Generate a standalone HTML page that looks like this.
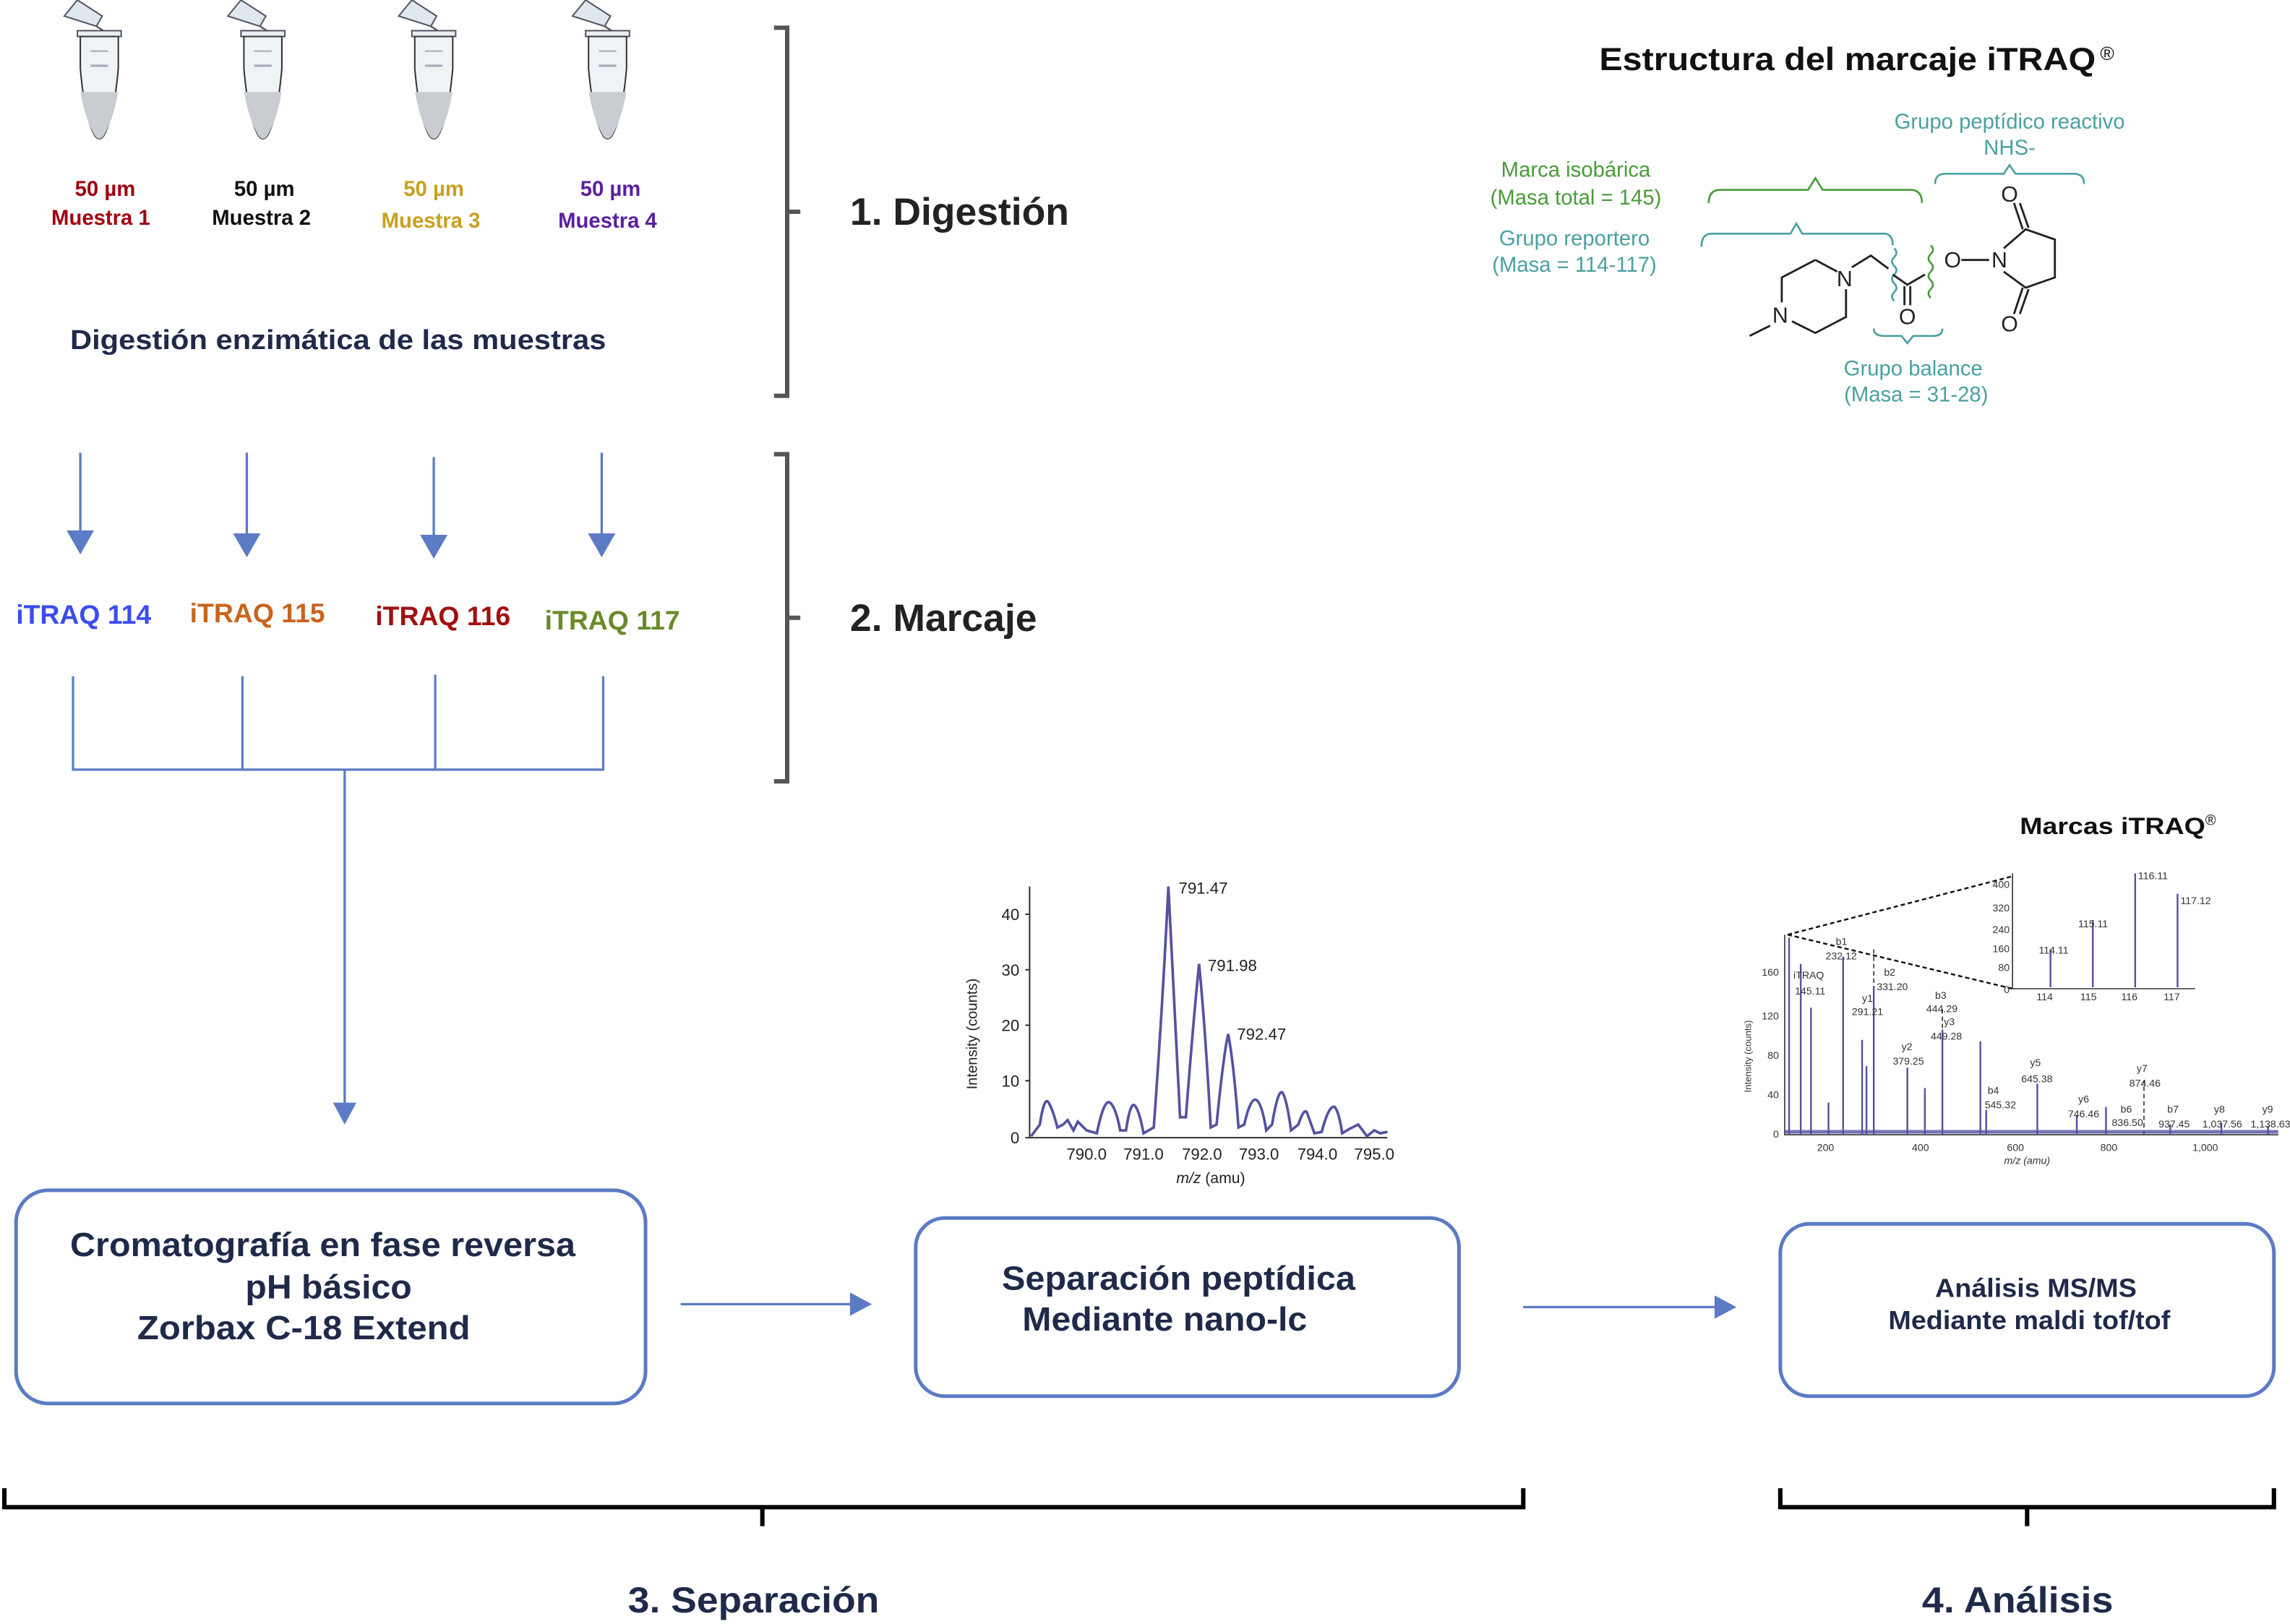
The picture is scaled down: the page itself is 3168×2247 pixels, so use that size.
<!DOCTYPE html>
<html><head><meta charset="utf-8"><style>
html,body{margin:0;padding:0;background:#fff;}
svg{display:block;}
text{font-family:"Liberation Sans",Arial,sans-serif;}
</style></head><body>
<svg width="3168" height="2247" viewBox="0 0 1568 1112" preserveAspectRatio="none" xmlns="http://www.w3.org/2000/svg">
<defs>
<g id="tube">
  <path d="M-24,-26 L-15,-37 L2,-26 L-2,-19 Z" fill="#dfe8ee" stroke="#556" stroke-width="1"/>
  <path d="M-2,-19 L6,-14 L14,-14" fill="none" stroke="#556" stroke-width="1.2"/>
  <rect x="-15" y="-16" width="30" height="4" fill="#e8eef2" stroke="#556" stroke-width="1"/>
  <path d="M-13,-12 L13,-12 L13,10 Q10,44 3,56 Q0,60 -3,56 Q-10,44 -13,10 Z" fill="#eef3f6" stroke="#333" stroke-width="1"/>
  <path d="M-12.8,26 L12.8,26 Q10,44 3,56 Q0,60 -3,56 Q-10,44 -12.8,26 Z" fill="#c9cdd1"/>
  <line x1="-6" y1="-2" x2="6" y2="-2" stroke="#aab" stroke-width="1"/>
  <line x1="-6" y1="8" x2="6" y2="8" stroke="#aab" stroke-width="1.5"/>
</g>
</defs>
<use href="#tube" x="68" y="37"/>
<use href="#tube" x="180" y="37"/>
<use href="#tube" x="297" y="37"/>
<use href="#tube" x="416" y="37"/>

<g font-weight="bold" font-size="14.5" text-anchor="middle">
<text x="72" y="134" fill="#a00010">50 µm</text><text x="69" y="154" fill="#a00010">Muestra 1</text>
<text x="181" y="134" fill="#111">50 µm</text><text x="179" y="154" fill="#111">Muestra 2</text>
<text x="297" y="134" fill="#c9a020">50 µm</text><text x="295" y="156" fill="#c9a020">Muestra 3</text>
<text x="418" y="134" fill="#5a1fa0">50 µm</text><text x="416" y="156" fill="#5a1fa0">Muestra 4</text>
</g>
<text x="48" y="239" font-weight="bold" font-size="19" fill="#1f2a4a" textLength="367" lengthAdjust="spacingAndGlyphs">Digestión enzimática de las muestras</text>

<g fill="none" stroke="#555" stroke-width="3">
<path d="M530,19 L539,19 L539,271 L530,271 M539,145 L548,145"/>
<path d="M530,311 L539,311 L539,535 L530,535 M539,423 L548,423"/>
</g>
<text x="582" y="154" font-weight="bold" font-size="26" fill="#222" textLength="150" lengthAdjust="spacingAndGlyphs">1. Digestión</text>
<text x="582" y="432" font-weight="bold" font-size="26" fill="#222" textLength="128" lengthAdjust="spacingAndGlyphs">2. Marcaje</text>

<g stroke="#5b7bc4" stroke-width="1.6" fill="#5b7bc4">
<line x1="55" y1="310" x2="55" y2="365"/><polygon points="47,364 63,364 55,378"/>
<line x1="169" y1="310" x2="169" y2="367"/><polygon points="161,366 177,366 169,380"/>
<line x1="297" y1="313" x2="297" y2="368"/><polygon points="289,367 305,367 297,381"/>
<line x1="412" y1="310" x2="412" y2="367"/><polygon points="404,366 420,366 412,380"/>
</g>
<g font-weight="bold" font-size="18.5">
<text x="11" y="427" fill="#3a4cf0">iTRAQ 114</text>
<text x="130" y="426" fill="#c8641e">iTRAQ 115</text>
<text x="257" y="428" fill="#a01010">iTRAQ 116</text>
<text x="373" y="431" fill="#6a8a2a">iTRAQ 117</text>
</g>
<g stroke="#5b7bc4" stroke-width="1.6" fill="none">
<path d="M50,463 L50,527 L413,527 L413,463 M166,463 L166,527 M298,462 L298,527 M236,527 L236,756"/>
<path d="M466,893 L584,893 M1043,895 L1176,895"/>
</g>
<g fill="#5b7bc4">
<polygon points="228,755 244,755 236,770"/>
<polygon points="582,885 582,901 597,893"/>
<polygon points="1174,887 1174,903 1189,895"/>
</g>

<g fill="none" stroke="#5b7bc4" stroke-width="2.5">
<rect x="11" y="815" width="431" height="146" rx="22"/>
<rect x="627" y="834" width="372" height="122" rx="20"/>
<rect x="1219" y="838" width="338" height="118" rx="20"/>
</g>
<g font-weight="bold" fill="#1f2a4a">
<text x="48" y="860" font-size="23" textLength="346" lengthAdjust="spacingAndGlyphs">Cromatografía en fase reversa</text>
<text x="168" y="889" font-size="23" textLength="114" lengthAdjust="spacingAndGlyphs">pH básico</text>
<text x="94" y="917" font-size="23" textLength="228" lengthAdjust="spacingAndGlyphs">Zorbax C-18 Extend</text>
<text x="686" y="883" font-size="23" textLength="242" lengthAdjust="spacingAndGlyphs">Separación peptídica</text>
<text x="700" y="911" font-size="23" textLength="195" lengthAdjust="spacingAndGlyphs">Mediante nano-lc</text>
<text x="1325" y="888" font-size="18" textLength="138" lengthAdjust="spacingAndGlyphs">Análisis MS/MS</text>
<text x="1293" y="910" font-size="18" textLength="193" lengthAdjust="spacingAndGlyphs">Mediante maldi tof/tof</text>
</g>

<g fill="none" stroke="#000" stroke-width="3">
<path d="M3,1019 L3,1032 L1043,1032 L1043,1019 M522,1032 L522,1045"/>
<path d="M1219,1019 L1219,1032 L1557,1032 L1557,1019 M1388,1032 L1388,1045"/>
</g>
<text x="430" y="1104" font-weight="bold" font-size="25" fill="#1f2a4a" textLength="172" lengthAdjust="spacingAndGlyphs">3. Separación</text>
<text x="1316" y="1104" font-weight="bold" font-size="25" fill="#1f2a4a" textLength="131" lengthAdjust="spacingAndGlyphs">4. Análisis</text>

<!-- iTRAQ structure -->
<text x="1095" y="48" font-weight="bold" font-size="22" fill="#111" textLength="340" lengthAdjust="spacingAndGlyphs">Estructura del marcaje iTRAQ</text>
<text x="1438" y="41" font-size="13" fill="#111">®</text>
<g font-size="14.5" text-anchor="middle">
<text x="1079" y="121" fill="#4a9a3a">Marca isobárica</text>
<text x="1079" y="140" fill="#4a9a3a">(Masa total = 145)</text>
<text x="1078" y="168" fill="#4aa0a0">Grupo reportero</text>
<text x="1078" y="186" fill="#4aa0a0">(Masa = 114-117)</text>
<text x="1376" y="88" fill="#4aa0a0">Grupo peptídico reactivo</text>
<text x="1376" y="106" fill="#4aa0a0">NHS-</text>
<text x="1310" y="257" fill="#4aa0a0">Grupo balance</text>
<text x="1312" y="275" fill="#4aa0a0">(Masa = 31-28)</text>
</g>
<g fill="none" stroke-width="1.3">
<path d="M1170,139 Q1170,130 1178,130 L1238,130 L1243,122 L1248,130 L1308,130 Q1316,130 1316,139" stroke="#4a9a3a"/>
<path d="M1165,169 Q1165,160 1172,160 L1226,160 L1230,153 L1234,160 L1290,160 Q1296,160 1296,168" stroke="#4aa0a0"/>
<path d="M1325,126 Q1325,119 1332,119 L1372,119 L1376,113 L1380,119 L1420,119 Q1427,119 1427,126" stroke="#4aa0a0"/>
<path d="M1283,225 Q1283,230 1290,230 L1302,230 L1306,235 L1310,230 L1324,230 Q1330,230 1330,225" stroke="#4aa0a0"/>
<path d="M1297,170 q3,3 0,6 q-3,3 0,6 q3,3 0,6 q-3,3 0,6 q3,3 0,6 q-3,3 0,6" stroke="#4aa0a0"/>
<path d="M1322,168 q3,3 0,6 q-3,3 0,6 q3,3 0,6 q-3,3 0,6 q3,3 0,6 q-3,3 0,6" stroke="#4a9a3a"/>
</g>
<g fill="none" stroke="#222" stroke-width="1.4">
<path d="M1243,178 L1258,186 M1264,198 L1264,217 L1243,228 L1227,220 M1220,207 L1220,190 L1243,178"/>
<path d="M1212,223 L1198,230"/>
<path d="M1268,183 L1281,175 L1293,184"/>
<path d="M1296,188 L1306,195 L1318,188 M1304,196 L1304,209 M1308,196 L1308,209"/>
<path d="M1343,178 L1362,178"/>
<path d="M1372,170 L1387,157 L1407,164 L1407,190 L1387,197 L1372,186"/>
<path d="M1385,157 L1379,139 M1389,156 L1383,139 M1385,197 L1379,215 M1389,198 L1383,215"/>
</g>
<g font-size="15" fill="#222" text-anchor="middle">
<text x="1263" y="196">N</text><text x="1219" y="221">N</text>
<text x="1306" y="222">O</text><text x="1337" y="183">O</text>
<text x="1369" y="183">N</text><text x="1376" y="138">O</text><text x="1376" y="227">O</text>
</g>

<!-- Spectrum 1 -->
<g stroke="#333" stroke-width="1" fill="none">
<path d="M705,607 L705,779 L950,779"/>
<path d="M702,626 L705,626 M702,664 L705,664 M702,702 L705,702 M702,740 L705,740 M702,779 L705,779"/>
</g>
<path d="M706,778 L712,770 Q715,750 718,755 Q721,760 724,772 L728,770 L731,767 L735,774 L738,768 L744,774 L751,776 Q756,752 760,755 Q764,758 767,774 L771,774 Q774,754 777,757 Q780,760 783,776 L790,772 Q796,690 800,607 Q804,690 808,765 L812,765 Q817,700 821,660 Q825,700 829,772 L833,770 Q838,720 841,708 Q845,730 848,772 L852,770 Q856,752 860,753 Q864,755 867,774 L871,770 Q875,746 878,748 Q881,752 884,774 L889,770 Q893,758 895,762 L900,776 L905,775 Q910,756 914,758 Q917,762 919,776 L924,773 L930,770 L936,778 L941,774 L945,776 L950,775" fill="none" stroke="#5552a0" stroke-width="1.8"/>
<g font-size="11" fill="#222">
<text x="807" y="612">791.47</text><text x="827" y="665">791.98</text><text x="847" y="712">792.47</text>
<g text-anchor="end"><text x="698" y="630">40</text><text x="698" y="668">30</text><text x="698" y="706">20</text><text x="698" y="744">10</text><text x="698" y="783">0</text></g>
<g text-anchor="middle"><text x="744" y="794">790.0</text><text x="783" y="794">791.0</text><text x="823" y="794">792.0</text><text x="862" y="794">793.0</text><text x="902" y="794">794.0</text><text x="941" y="794">795.0</text>
<text x="829" y="810" font-size="10.5"><tspan font-style="italic">m/z</tspan> (amu)</text></g>
<text transform="translate(669,746) rotate(-90)" font-size="10">Intensity (counts)</text>
</g>

<!-- Spectrum 2 -->
<text x="1383" y="571" font-weight="bold" font-size="16" fill="#111" textLength="127" lengthAdjust="spacingAndGlyphs">Marcas iTRAQ</text>
<text x="1510" y="565" font-size="10" fill="#111">®</text>
<g stroke="#333" stroke-width="0.8" fill="none">
<path d="M1222,640 L1222,777 L1560,777"/>
<path d="M1378,598 L1378,677 L1503,677"/>
<path d="M1224,640 L1378,600 M1224,640 L1378,677" stroke="#111" stroke-dasharray="3,2" stroke-width="1.2"/>
<path d="M1283,678 L1283,650 M1330,704 L1330,690 M1468,777 L1468,740" stroke-dasharray="3,2"/>
</g>
<g stroke="#5552a0" stroke-width="1.2">
<path d="M1225,777 L1225,642 M1233,777 L1233,660 M1240,777 L1240,690 M1252,777 L1252,755 M1262,777 L1262,655 M1275,777 L1275,712 M1278,777 L1278,730 M1283,777 L1283,675 M1306,777 L1306,731 M1318,777 L1318,745 M1330,777 L1330,705 M1356,777 L1356,713 M1360,777 L1360,760 M1395,777 L1395,742 M1422,777 L1422,764 M1442,777 L1442,758 M1486,777 L1486,770 M1521,777 L1521,769 M1553,777 L1553,771"/>
<path d="M1222,775 L1560,775" stroke-width="2.5" opacity="0.8"/>
<path d="M1404,676 L1404,650 M1433,676 L1433,630 M1462,676 L1462,598 M1491,676 L1491,612"/>
</g>
<g font-size="7" fill="#333">
<text x="1228" y="670">iTRAQ</text><text x="1229" y="681">145.11</text>
<text x="1257" y="647">b1</text><text x="1250" y="657">232.12</text>
<text x="1290" y="668">b2</text><text x="1285" y="678">331.20</text>
<text x="1275" y="686">y1</text><text x="1268" y="695">291.21</text>
<text x="1325" y="684">b3</text><text x="1319" y="693">444.29</text>
<text x="1331" y="702">y3</text><text x="1322" y="712">449.28</text>
<text x="1302" y="719">y2</text><text x="1296" y="729">379.25</text>
<text x="1390" y="730">y5</text><text x="1384" y="741">645.38</text>
<text x="1361" y="749">b4</text><text x="1359" y="759">545.32</text>
<text x="1423" y="755">y6</text><text x="1416" y="765">746.46</text>
<text x="1463" y="734">y7</text><text x="1458" y="744">874.46</text>
<text x="1452" y="762">b6</text><text x="1446" y="771">836.50</text>
<text x="1484" y="762">b7</text><text x="1478" y="772">937.45</text>
<text x="1516" y="762">y8</text><text x="1508" y="772">1,037.56</text>
<text x="1549" y="762">y9</text><text x="1541" y="772">1,138.63</text>
<text x="1396" y="653">114.11</text><text x="1423" y="635">115.11</text><text x="1464" y="602">116.11</text><text x="1493" y="619">117.12</text>
<g text-anchor="end"><text x="1218" y="668">160</text><text x="1218" y="698">120</text><text x="1218" y="725">80</text><text x="1218" y="752">40</text><text x="1218" y="779">0</text>
<text x="1376" y="608">400</text><text x="1376" y="624">320</text><text x="1376" y="639">240</text><text x="1376" y="652">160</text><text x="1376" y="665">80</text><text x="1376" y="680">0</text></g>
<g text-anchor="middle"><text x="1250" y="788">200</text><text x="1315" y="788">400</text><text x="1380" y="788">600</text><text x="1444" y="788">800</text><text x="1510" y="788">1,000</text>
<text x="1388" y="797" font-style="italic">m/z (amu)</text>
<text x="1400" y="685">114</text><text x="1430" y="685">115</text><text x="1458" y="685">116</text><text x="1487" y="685">117</text></g>
<text transform="translate(1199,748) rotate(-90)" font-size="6.5">Intensity (counts)</text>
</g>
</svg>
</body></html>
